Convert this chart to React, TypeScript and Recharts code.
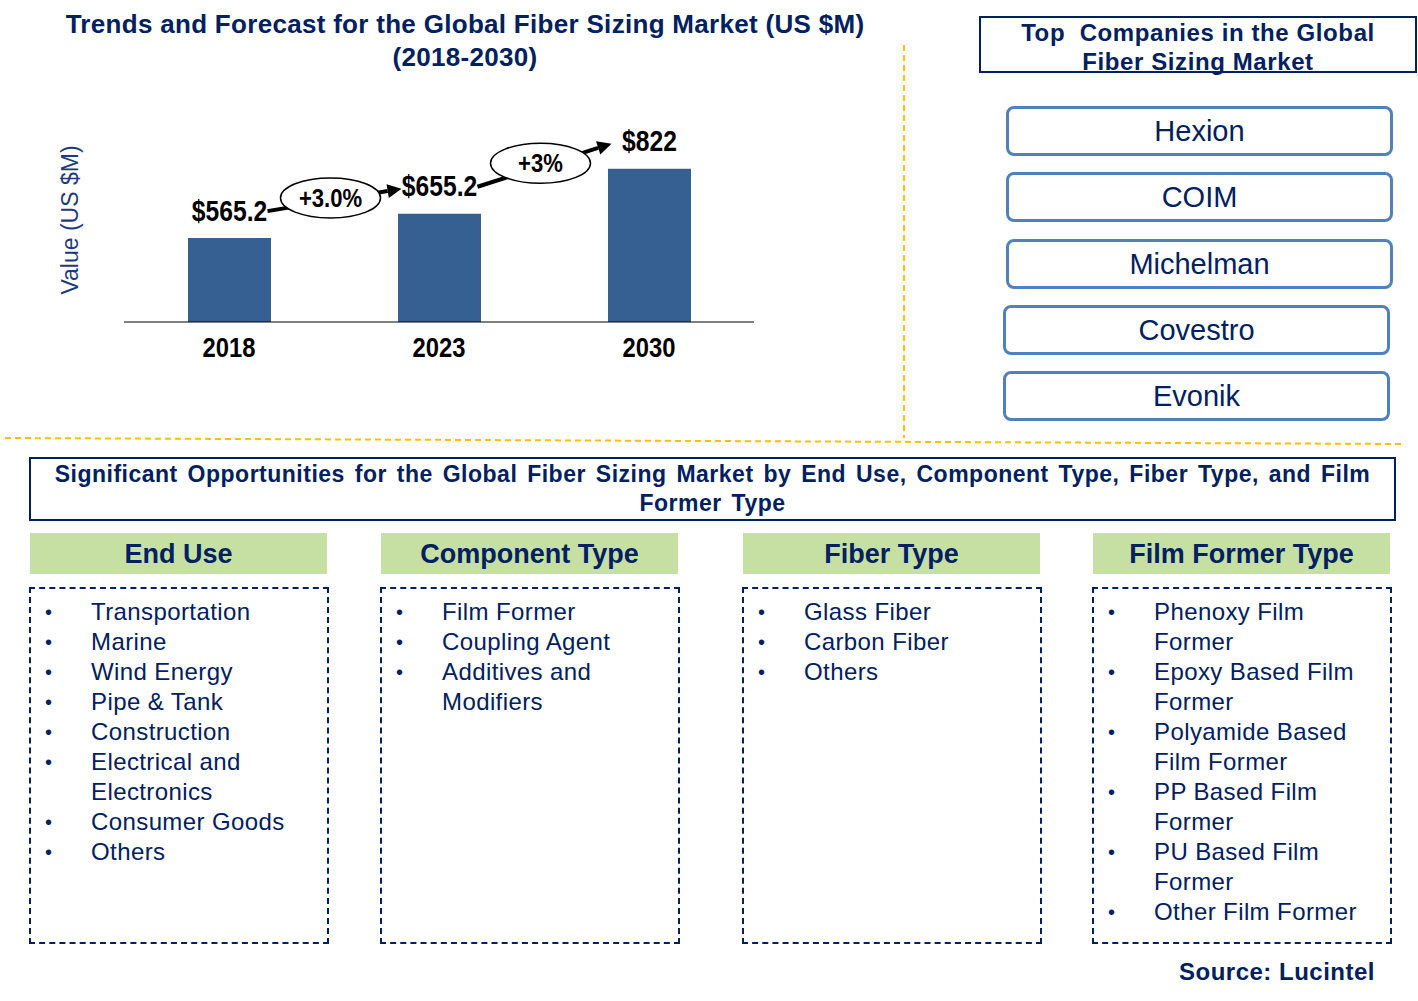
import React from 'react';
import { BarChart, Bar, XAxis, YAxis, LabelList } from 'recharts';

const years = ['2018', '2023', '2030'];
const marketValues = [565.2, 655.2, 822];
const valueLabels = ['$565.2', '$655.2', '$822'];
const growthLabels = ['+3.0%', '+3%'];

const companies = ['Hexion', 'COIM', 'Michelman', 'Covestro', 'Evonik'];

const segmentTitles = ['End Use', 'Component Type', 'Fiber Type', 'Film Former Type'];
const endUseItems = ['Transportation', 'Marine', 'Wind Energy', 'Pipe & Tank', 'Construction', 'Electrical and\nElectronics', 'Consumer Goods', 'Others'];
const componentItems = ['Film Former', 'Coupling Agent', 'Additives and\nModifiers'];
const fiberItems = ['Glass Fiber', 'Carbon Fiber', 'Others'];
const filmFormerItems = ['Phenoxy Film\nFormer', 'Epoxy Based Film\nFormer', 'Polyamide Based\nFilm Former', 'PP Based Film\nFormer', 'PU Based Film\nFormer', 'Other Film Former'];
const segmentItems = [endUseItems, componentItems, fiberItems, filmFormerItems];

const NAVY = '#002060';
const FONT = '"Liberation Sans", Arial, sans-serif';

const CHART_W = 800;
const CHART_H = 280;
const MARGIN = { top: 30, right: 46, bottom: 28, left: 124 };
const Y_MIN = 255;
const Y_MAX = 965;

const chartData = years.map((year, i) => ({ year, value: marketValues[i] }));

// condensed bold text, like Arial Narrow in the original
const NarrowText = ({ x, y, size, children }: any) => (
  <text
    transform={`translate(${x},${y}) scale(0.85,1)`}
    textAnchor="middle"
    dominantBaseline="central"
    fontFamily={FONT}
    fontWeight="bold"
    fontSize={size}
    fill="#000"
  >
    {children}
  </text>
);

const YearTick = (props: any) => {
  const { x, y, payload } = props;
  return <NarrowText x={x} y={y + 17} size={28}>{payload.value}</NarrowText>;
};

// value label + growth arrow/ellipse towards the next bar
const ValueLabel = (props: any) => {
  const vb = props.viewBox && props.viewBox.width !== undefined ? props.viewBox : props;
  const { x, y, width, height } = vb;
  let index = props.index;
  if (index === undefined) index = marketValues.indexOf(props.value);
  const cx = x + width / 2;
  const ly = y - 27;
  let arrow = null;
  if (index < marketValues.length - 1) {
    const pxPerUnit = height / (marketValues[index] - Y_MIN);
    const band = (CHART_W - MARGIN.left - MARGIN.right) / years.length;
    const nextTop = y + height - (marketValues[index + 1] - Y_MIN) * pxPerUnit;
    const x1 = cx + 38;
    const y1 = ly;
    const x2 = cx + band - 38;
    const y2 = nextTop - 27 + 2;
    const ang = Math.atan2(y2 - y1, x2 - x1);
    const hl = 14;
    const hw = 7;
    const bx = x2 - hl * Math.cos(ang);
    const by = y2 - hl * Math.sin(ang);
    const px = -Math.sin(ang);
    const py = Math.cos(ang);
    const mx = (x1 + x2) / 2 - 4;
    const my = (y1 + y2) / 2 - 2;
    arrow = (
      <g>
        <line x1={x1} y1={y1} x2={bx} y2={by} stroke="#000" strokeWidth={4} />
        <polygon points={`${x2},${y2} ${bx + px * hw},${by + py * hw} ${bx - px * hw},${by - py * hw}`} fill="#000" />
        <ellipse cx={mx} cy={my} rx={50} ry={20} fill="#fff" stroke="#000" strokeWidth={1.5} />
        <NarrowText x={mx} y={my} size={26}>{growthLabels[index]}</NarrowText>
      </g>
    );
  }
  return (
    <g>
      {arrow}
      <NarrowText x={cx} y={ly} size={29}>{valueLabels[index]}</NarrowText>
    </g>
  );
};

const colLefts = [29, 380, 742, 1092];

const App: React.FC = () => {
  return (
    <div style={{ position: 'absolute', left: 0, top: 0, width: 1418, height: 1001, background: '#fff', overflow: 'hidden', fontFamily: FONT, color: NAVY }}>
      {/* dashed separators */}
      <svg width={1418} height={1001} style={{ position: 'absolute', left: 0, top: 0 }}>
        <line x1={904} y1={45} x2={904} y2={438} stroke="#FFC000" strokeWidth={2} strokeDasharray="6 4" />
        <line x1={5} y1={438} x2={1403} y2={444} stroke="#FFC000" strokeWidth={2} strokeDasharray="6 4" />
      </svg>

      {/* chart title */}
      <div style={{ position: 'absolute', left: 0, top: 8, width: 930, textAlign: 'center', fontWeight: 'bold', fontSize: 26, letterSpacing: 0.3, lineHeight: '33px' }}>
        Trends and Forecast for the Global Fiber Sizing Market (US $M)
        <br />
        (2018-2030)
      </div>

      {/* y axis title */}
      <div style={{ position: 'absolute', left: 70, top: 220, transform: 'translate(-50%, -50%) rotate(-90deg)', whiteSpace: 'nowrap', fontSize: 23, color: '#1F3A7A' }}>
        Value (US $M)
      </div>

      <div style={{ position: 'absolute', left: 0, top: 100 }}>
        <BarChart width={CHART_W} height={CHART_H} data={chartData} margin={MARGIN} style={{ fontFamily: FONT }}>
          <XAxis
            dataKey="year"
            height={30}
            interval={0}
            tickLine={false}
            axisLine={{ stroke: '#000', strokeWidth: 1 }}
            tick={<YearTick />}
          />
          <YAxis hide domain={[Y_MIN, Y_MAX]} />
          <Bar dataKey="value" fill="#366092" barSize={83} isAnimationActive={false}>
            <LabelList dataKey="value" content={<ValueLabel />} />
          </Bar>
        </BarChart>
      </div>

      {/* top companies */}
      <div style={{ position: 'absolute', left: 979, top: 16, width: 434, height: 53, border: `2px solid ${NAVY}`, textAlign: 'center', fontWeight: 'bold', fontSize: 24, letterSpacing: 0.6, lineHeight: '29px' }}>
        Top&nbsp; Companies in the Global
        <br />
        Fiber Sizing Market
      </div>
      {companies.map((c, i) => (
        <div
          key={c}
          style={{
            position: 'absolute',
            left: i < 3 ? 1006 : 1003,
            top: 106 + i * 66.3,
            width: 381,
            height: 44,
            border: '3px solid #4F81BD',
            borderRadius: 8,
            textAlign: 'center',
            fontSize: 29,
            lineHeight: '44px',
          }}
        >
          {c}
        </div>
      ))}

      {/* opportunities */}
      <div style={{ position: 'absolute', left: 29, top: 457, width: 1363, height: 59, border: `2px solid ${NAVY}`, textAlign: 'center', fontWeight: 'bold', fontSize: 23, letterSpacing: 0.5, wordSpacing: 3, lineHeight: '29px', paddingTop: 1 }}>
        Significant Opportunities for the Global Fiber Sizing Market by End Use, Component Type, Fiber Type, and Film
        <br />
        Former Type
      </div>

      {segmentTitles.map((t, i) => (
        <React.Fragment key={t}>
          <div style={{ position: 'absolute', left: colLefts[i] + 1, top: 533, width: 297, height: 41, background: '#C6E0A4', textAlign: 'center', fontWeight: 'bold', fontSize: 27, lineHeight: '42px' }}>
            {t}
          </div>
          <div style={{ position: 'absolute', left: colLefts[i], top: 587, width: 296, height: 345, border: `2px dashed ${NAVY}`, paddingTop: 8, boxSizing: 'content-box' }}>
            {segmentItems[i].map((item) => (
              <div key={item} style={{ position: 'relative', paddingLeft: 60, fontSize: 24, letterSpacing: 0.4, lineHeight: '30px', whiteSpace: 'pre-line' }}>
                <span style={{ position: 'absolute', left: 14, top: 0, fontSize: 20 }}>•</span>
                {item}
              </div>
            ))}
          </div>
        </React.Fragment>
      ))}

      <div style={{ position: 'absolute', right: 43, top: 957, fontWeight: 'bold', fontSize: 24, letterSpacing: 0.5, lineHeight: '30px' }}>
        Source: Lucintel
      </div>
    </div>
  );
};

export default App;
